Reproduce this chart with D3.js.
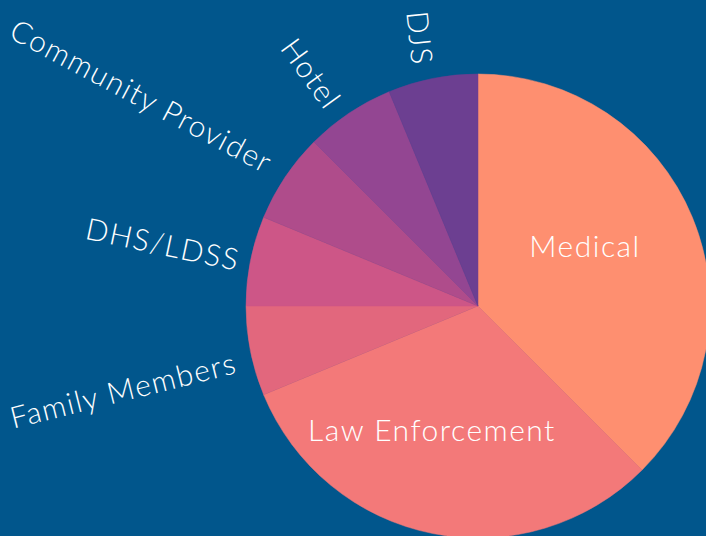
<!DOCTYPE html>
<html>
<head>
<meta charset="utf-8">
<script src="https://cdn.jsdelivr.net/npm/d3@7"></script>
<style>
  html, body { margin: 0; padding: 0; background: #01568c; overflow: hidden; }
  text { font-family: Lato, "Open Sans", sans-serif; fill: #fff; }
</style>
</head>
<body>
<div id="vis"></div>
<script>
const categories = ["Medical", "Law Enforcement", "Family Members", "DHS/LDSS", "Community Provider", "Hotel", "DJS"];
const counts = [6, 5, 1, 1, 1, 1, 1];
const colors = ["#fe8f70", "#f37979", "#e2677d", "#cd5687", "#af4c8b", "#934692", "#6c3f91"];

// label placement (inside for the big slices, rotated outside for the small ones)
const labelLayout = [
  { x: 585, y: 245, rotate: 0 },
  { x: 432, y: 429, rotate: 0 },
  { x: 123, y: 389, rotate: -14 },
  { x: 163, y: 243, rotate: 12 },
  { x: 142, y: 95, rotate: 28 },
  { x: 312, y: 73, rotate: 54 },
  { x: 421, y: 38, rotate: 84 }
];

const width = 706;
const height = 536;
const cx = 478, cy = 306, radius = 232;

const svg = d3.select("#vis")
  .append("svg")
  .attr("width", width)
  .attr("height", height);

svg.append("rect")
  .attr("width", width)
  .attr("height", height)
  .attr("fill", "#01568c");

const data = categories.map((c, i) => ({ name: c, value: counts[i], color: colors[i] }));

const pie = d3.pie().sort(null).value(d => d.value);
const arc = d3.arc().innerRadius(0).outerRadius(radius);

const g = svg.append("g")
  .attr("transform", `translate(${cx},${cy})`);

g.selectAll("path")
  .data(pie(data))
  .enter()
  .append("path")
  .attr("d", arc)
  .attr("fill", d => d.data.color)
  .attr("stroke", d => d.data.color)
  .attr("stroke-width", 0.5);

svg.selectAll(".label")
  .data(data)
  .enter()
  .append("text")
  .attr("class", "label")
  .attr("text-anchor", "middle")
  .attr("dominant-baseline", "central")
  .attr("font-size", 30)
  .attr("font-weight", 300)
  .attr("letter-spacing", 1.5)
  .attr("transform", (d, i) => `translate(${labelLayout[i].x},${labelLayout[i].y}) rotate(${labelLayout[i].rotate})`)
  .text(d => d.name);
</script>
</body>
</html>
